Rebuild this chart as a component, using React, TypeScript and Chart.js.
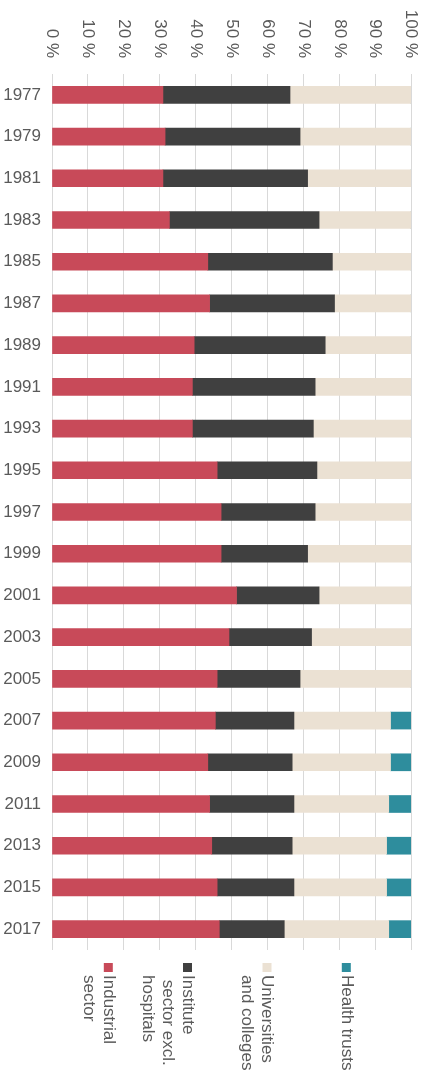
import React, { useEffect, useRef } from "react";
import { Chart, registerables } from "chart.js";

Chart.register(...registerables);

const years = ["1977","1979","1981","1983","1985","1987","1989","1991","1993","1995","1997","1999","2001","2003","2005","2007","2009","2011","2013","2015","2017"];
const industrial = [30.9,31.5,30.9,32.7,43.4,43.9,39.6,39.1,39.1,46.0,47.1,47.1,51.4,49.3,46.0,45.5,43.4,43.9,44.5,46.0,46.6];
const institute = [35.4,37.6,40.3,41.7,34.7,34.8,36.5,34.2,33.7,27.8,26.2,24.1,23.0,23.0,23.1,21.9,23.5,23.5,22.4,21.4,18.1];
const universities = [33.7,30.9,28.8,25.6,21.9,21.3,23.9,26.7,27.2,26.2,26.7,28.8,25.6,27.7,30.9,26.9,27.4,26.4,26.3,25.8,29.1];
const healthTrusts = [0,0,0,0,0,0,0,0,0,0,0,0,0,0,0,5.7,5.7,6.2,6.8,6.8,6.2];
const tickValues = [0,10,20,30,40,50,60,70,80,90,100];
const seriesNames = ["Industrial sector","Institute sector excl. hospitals","Universities and colleges","Health trusts"];
const legendLines = [["Industrial","sector"],["Institute"," sector excl.","hospitals"],["Universities","and colleges"],["Health trusts"]];
const colors = ["#c84a59","#404040","#ebe1d3","#2e8d9d"];

const FONT = "'Liberation Sans', Arial, sans-serif";
const TEXT = "#5a5a5a";

const overlay = {
  id: "overlay",
  afterDraw(chart: any) {
    const ctx = chart.ctx;
    const xs = chart.scales.x;
    ctx.save();
    ctx.fillStyle = TEXT;
    ctx.font = `17px ${FONT}`;
    tickValues.forEach((v) => {
      const px = xs.getPixelForValue(v);
      ctx.save();
      ctx.translate(px, 58);
      ctx.rotate(Math.PI / 2);
      ctx.textAlign = "right";
      ctx.textBaseline = "middle";
      ctx.fillText(`${v} %`, 0, 0);
      ctx.restore();
    });
    const centers = [108.3, 187.5, 267, 346.3];
    legendLines.forEach((lines, i) => {
      const c = centers[i];
      ctx.fillStyle = colors[i];
      ctx.fillRect(c - 4.5, 963, 9, 9);
      ctx.fillStyle = TEXT;
      lines.forEach((line, j) => {
        ctx.save();
        ctx.translate(c - j * 20, 975);
        ctx.rotate(Math.PI / 2);
        ctx.textAlign = "left";
        ctx.textBaseline = "middle";
        ctx.fillText(line, 0, 0);
        ctx.restore();
      });
    });
    ctx.restore();
  },
};

export default function App() {
  const ref = useRef<HTMLCanvasElement | null>(null);
  useEffect(() => {
    if (!ref.current) return;
    const series = [industrial, institute, universities, healthTrusts];
    const chart = new Chart(ref.current, {
      type: "bar",
      data: {
        labels: years,
        datasets: series.map((d, i) => ({
          label: seriesNames[i],
          data: d,
          backgroundColor: colors[i],
          borderWidth: 0,
          barThickness: 17,
        })),
      },
      options: {
        indexAxis: "y",
        animation: false,
        responsive: false,
        layout: { padding: { top: 74, bottom: 125, left: 0, right: 14 } },
        plugins: { legend: { display: false }, tooltip: { enabled: false } },
        scales: {
          x: {
            position: "top",
            stacked: true,
            min: 0,
            max: 100,
            ticks: { stepSize: 10, display: false },
            grid: { color: "#d9d9d9", lineWidth: 1, drawTicks: false },
            border: { display: false },
          },
          y: {
            stacked: true,
            grid: { display: false, drawTicks: false },
            border: { display: false },
            ticks: { color: TEXT, font: { size: 17, family: FONT }, padding: 11 },
            afterFit: (s: any) => { s.width = 52; },
          },
        },
      },
      plugins: [overlay],
    });
    return () => chart.destroy();
  }, []);
  return (
    <div style={{ position: "absolute", left: 0, top: 0, width: 425, height: 1075, overflow: "hidden", background: "#fff" }}>
      <canvas ref={ref} width={425} height={1075} />
    </div>
  );
}
